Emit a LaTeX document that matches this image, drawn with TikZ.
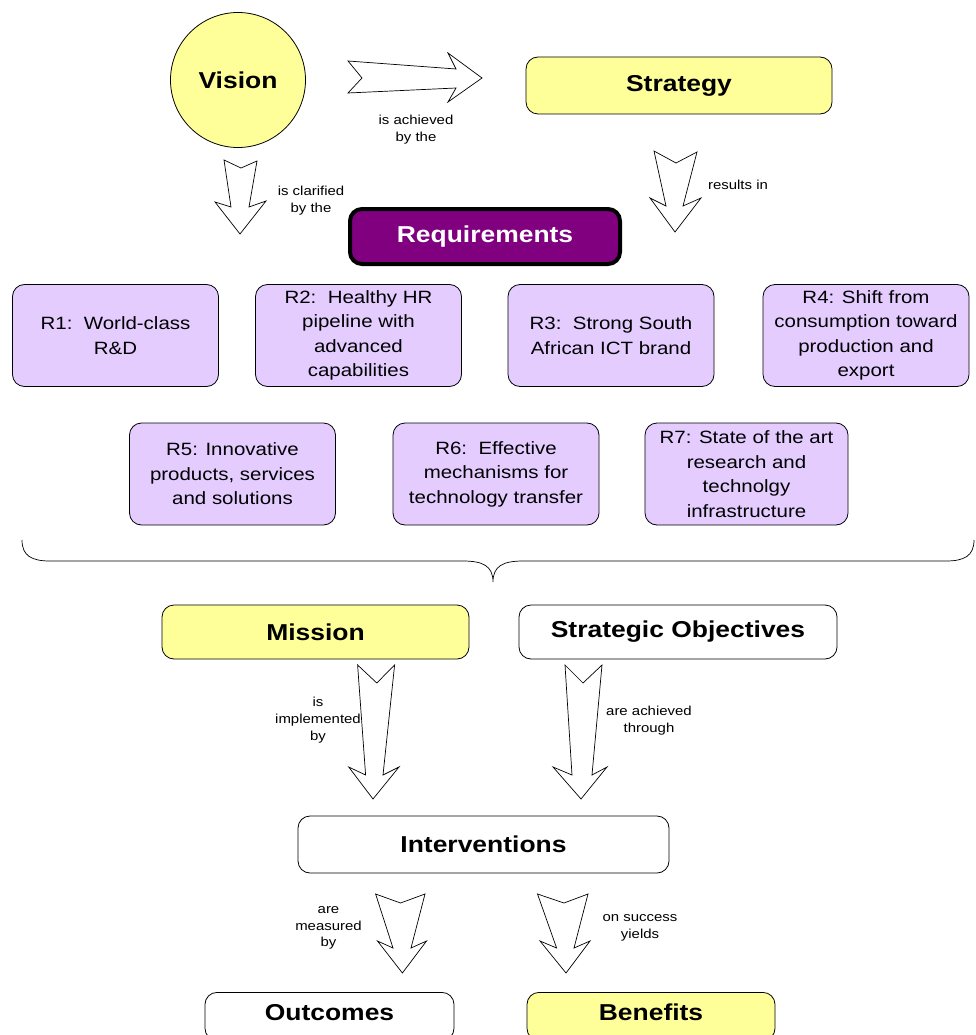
\documentclass[tikz,border=0pt]{standalone}
\usepackage{fontspec}
\setmainfont{Liberation Sans}[FakeStretch=1.15]
\definecolor{yel}{HTML}{FFFF99}
\definecolor{lav}{HTML}{E5CCFF}
\definecolor{purp}{HTML}{800080}
\begin{document}
\begin{tikzpicture}[x=1pt,y=-1pt,
  box/.style={draw=black, line width=0.8pt, rounded corners=12pt, inner sep=0pt, align=center},
  title/.style={font=\fontsize{23}{27}\selectfont\bfseries},
  req/.style={box, fill=lav, font=\fontsize{17.8}{24.5}\selectfont, minimum width=206pt, minimum height=102pt},
  lbl/.style={font=\fontsize{13}{16.8}\selectfont, align=center, inner sep=0pt},
  barrow/.style={draw=black, fill=white, line width=0.7pt, line join=miter}]
\useasboundingbox (0,0) rectangle (976,1035);
% main nodes
\node[circle, draw=black, line width=0.8pt, fill=yel, minimum size=135pt, inner sep=0pt, title] (vision) at (238,80) {Vision};
\node[box, fill=yel, title, minimum width=306pt, minimum height=57pt] (strategy) at (679,85.5) {Strategy};
\node[box, fill=purp, text=white, line width=4pt, title, minimum width=270pt, minimum height=55pt] (reqs) at (485,236.5) {Requirements};
% requirement boxes
\node[req] (r1) at (115.5,335.5) {R1:\ \ World-class\\R\&D};
\node[req] (r2) at (358.5,335.5) {R2:\ \ Healthy HR\\pipeline with\\advanced\\capabilities};
\node[req] (r3) at (611,335.5) {R3:\ \ Strong South\\African ICT brand};
\node[req] (r4) at (866,335.5) {R4: Shift from\\consumption toward\\production and\\export};
\node[req] (r5) at (232.5,474) {R5: Innovative\\products, services\\and solutions};
\node[req] (r6) at (496,474) {R6:\ \ Effective\\mechanisms for\\technology transfer};
\node[req, minimum width=203pt] (r7) at (746.5,474) {R7: State of the art\\research and\\technolgy\\infrastructure};
% brace
\draw[line width=0.7pt] (22,540) .. controls (22,556) and (32,561) .. (50,561) -- (463,561)
  .. controls (483,561) and (493,566) .. (493,582)
  .. controls (493,566) and (503,561) .. (523,561) -- (946,561)
  .. controls (964,561) and (974,556) .. (974,540);
% lower nodes
\node[box, fill=yel, title, minimum width=307pt, minimum height=54pt] (mission) at (315.5,632) {Mission};
\node[box, fill=white, title, minimum width=318pt, minimum height=54pt] (sobj) at (678,632) {Strategic Objectives};
\node[box, fill=white, title, minimum width=371pt, minimum height=57pt] (interv) at (483.5,844.5) {Interventions};
\node[box, fill=white, title, anchor=north, minimum width=249pt, inner ysep=11.5pt, text height=17pt, text depth=8pt] (outc) at (329.5,992) {Outcomes};
\node[box, fill=yel, title, anchor=north, minimum width=248pt, inner ysep=11.5pt, text height=17pt, text depth=8pt] (benef) at (651,992) {Benefits};
% block arrows
\draw[barrow] (348,61) -- (456,69) -- (448,53) -- (482,78) -- (448,102) -- (456,88) -- (348,93) -- (362,78) -- cycle;
\draw[barrow] (224,160) -- (241,168) -- (257,161) -- (249,207) -- (266,201) -- (240,234) -- (215,202) -- (231,207) -- cycle;
\draw[barrow] (654,151) -- (676,163) -- (697,152) -- (683,206) -- (701,198) -- (675,232) -- (650,198) -- (666,206) -- cycle;
\draw[barrow] (357.6,665) -- (376.8,683) -- (394.6,665) -- (383,775) -- (399,767) -- (373,799) -- (348.7,767) -- (365.6,775) -- cycle;
\draw[barrow] (565,665) -- (583,683) -- (602,665) -- (592,775) -- (607,767) -- (581,799) -- (553,767) -- (572,775) -- cycle;
\draw[barrow] (375.6,894) -- (400.5,903) -- (425,894) -- (411,948) -- (426.5,941) -- (402.4,973) -- (377.5,941) -- (393,948) -- cycle;
\draw[barrow] (537.5,894) -- (564,903) -- (588,894) -- (574,948) -- (590,941) -- (566,973) -- (540,941) -- (556.6,948) -- cycle;
% labels
\node[lbl] (l1) at (416,130) {is achieved\\by the};
\node[lbl] (l2) at (311,201) {is clarified\\by the};
\node[lbl] (l3) at (738,185) {results in};
\node[lbl] (l4) at (318,720) {is\\implemented\\by};
\node[lbl] (l5) at (649,721) {are achieved\\through};
\node[lbl] (l6) at (328.5,928) {are\\measured\\by};
\node[lbl] (l7) at (640,927.5) {on success\\yields};
\end{tikzpicture}
\end{document}
